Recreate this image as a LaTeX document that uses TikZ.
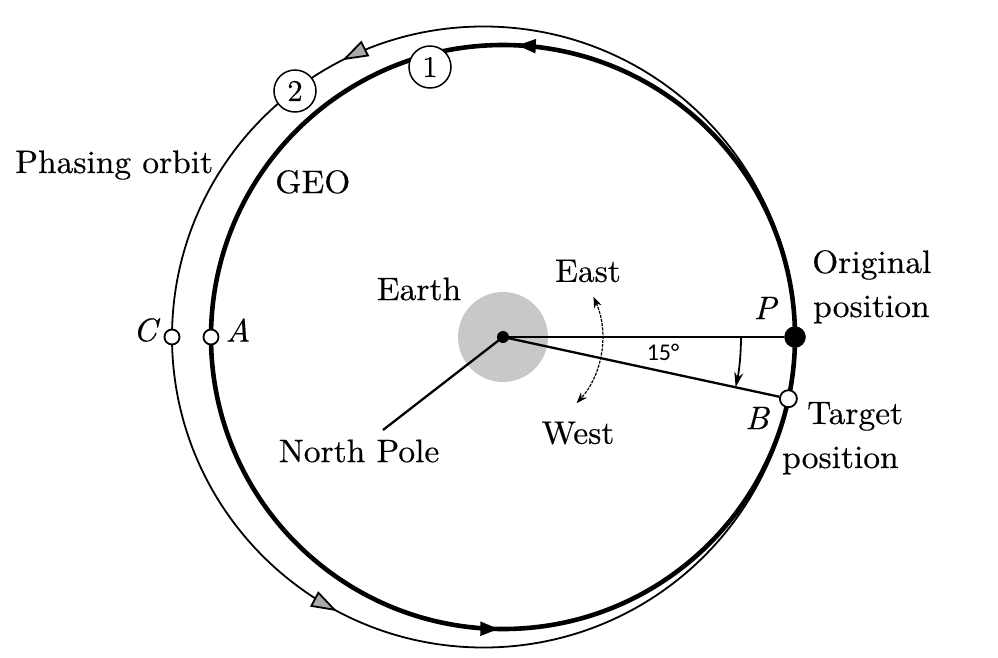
\documentclass[tikz,border=0pt]{standalone}
\usepackage{fontspec}
\setmainfont{lmroman10}[Extension=.otf, UprightFont=*-regular, ItalicFont=*-italic, FakeStretch=1.03, FakeBold=0.4]
\newfontfamily\calibri{Carlito}
\usetikzlibrary{arrows.meta,decorations.markings}
\definecolor{earthgray}{RGB}{200,200,200}
\definecolor{arrowgray}{RGB}{170,170,170}
\begin{document}
\begin{tikzpicture}[x=1pt,y=1pt,
  lbl/.style={font=\fontsize{32.5}{38}\selectfont, inner sep=0pt},
  ilbl/.style={font=\fontsize{32.5}{38}\selectfont\itshape, inner sep=0pt},
  sat/.style={circle, draw, fill=white, line width=1.8pt, inner sep=0pt, minimum size=15pt},
  num/.style={circle, draw, fill=white, line width=1.5pt, inner sep=0pt, minimum size=42pt, font=\fontsize{30}{36}\selectfont},
  geo/.style={line width=4.6pt},
  phase/.style={line width=1.8pt},
  radial/.style={line width=2.3pt},
]
\useasboundingbox (-503,-320) rectangle (495,337);

% phasing orbit
\draw[phase, postaction={decorate, decoration={markings,
    mark=at position 0.325 with {\arrow{Triangle[length=26pt,width=17pt,fill=arrowgray]}},
    mark=at position 0.672 with {\arrow{Triangle[length=26pt,width=17pt,fill=arrowgray]}}}}]
  (-19.5,0) ellipse[x radius=311.5pt, y radius=310.5pt];

% GEO
\draw[geo, postaction={decorate, decoration={markings,
    mark=at position 0.2425 with {\arrow{Triangle[length=19pt,width=13pt]}},
    mark=at position 0.748 with {\arrow{Triangle[length=19pt,width=13pt]}}}}]
  (0,0) circle[radius=292pt];

% Earth
\fill[earthgray] (0,0) circle[radius=45pt];
\node[circle, fill=black, inner sep=0pt, minimum size=12pt] (O) at (0,0) {};

% positions
\node[circle, fill=black, draw, inner sep=0pt, minimum size=21pt] (P) at (292,0) {};
\node[sat, minimum size=17pt] (B) at (-12.2:292pt) {};
\node[sat] (A) at (-292,0) {};
\node[sat] (C) at (-331,0) {};

\coordinate (np) at (-120,-93);
\draw[radial] (O.center) -- (P);
\draw[radial] (O.center) -- (B);
\draw[radial] (O.center) -- (np);

% 15 deg arc
\draw[line width=1.8pt, -{Stealth[length=15pt,width=9pt]}] (238pt,0) arc[start angle=0, end angle=-12.2, radius=238pt];
\node[font=\calibri\fontsize{24}{28}\selectfont, inner sep=0pt] (deg) at (160,-15) {15°};

% East-West arc
\draw[dash pattern=on 3pt off 1.2pt, line width=1.2pt, {Stealth[length=11pt,width=8pt]}-{Stealth[length=11pt,width=8pt]}]
  (24:99pt) arc[start angle=24, end angle=-42, radius=99pt];

% numbered markers
\node[num] (n1) at (-73,270) {1};
\node[num] (n2) at (-208,246) {2};

% labels
\node[lbl, anchor=base west] (lphase) at (-488,164) {Phasing orbit};
\node[lbl, anchor=base west] (lgeo) at (-228,144) {GEO};
\node[lbl] (learth) at (-84,48) {Earth};
\node[lbl] (least) at (85,66) {East};
\node[lbl] (lwest) at (75,-96) {West};
\node[lbl] (lnp) at (-144,-114) {North Pole};
\node[ilbl] (lP) at (262,29) {P};
\node[ilbl] (lB) at (254,-81) {B};
\node[ilbl] (lC) at (-358,7) {C};
\node[ilbl] (lA) at (-265,7) {A};
\node[lbl, anchor=base west] (lorig1) at (309,64) {Original};
\node[lbl, anchor=base west] (lorig2) at (310,20) {position};
\node[lbl, anchor=base west] (ltarg1) at (304,-87) {Target};
\node[lbl, anchor=base west] (ltarg2) at (279,-131) {position};
\end{tikzpicture}
\end{document}
